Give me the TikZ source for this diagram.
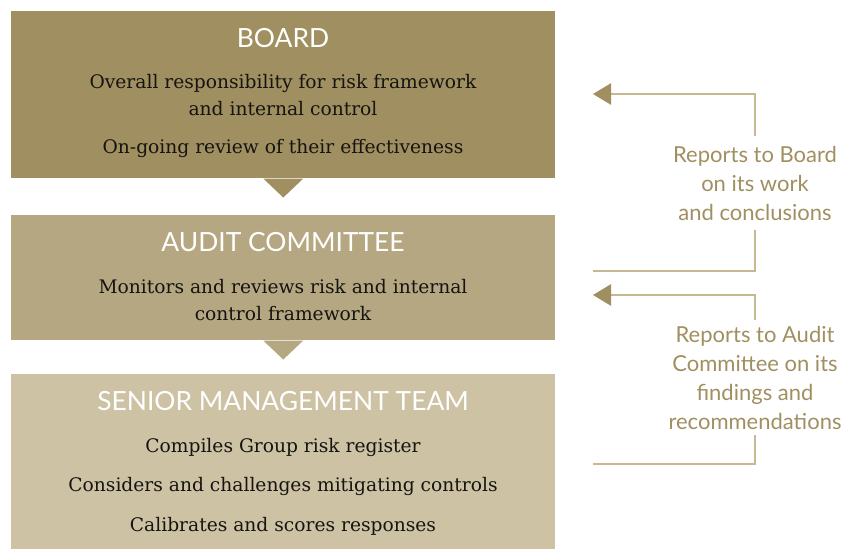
\documentclass[tikz,border=0pt]{standalone}
\usepackage{fontspec}
\setmainfont{DejaVu Serif}
\setsansfont{Lato}
\usetikzlibrary{arrows.meta, positioning}

\definecolor{boardgold}{RGB}{160,143,96}
\definecolor{auditgold}{RGB}{181,167,129}
\definecolor{seniorgold}{RGB}{205,194,164}
\definecolor{linkgold}{RGB}{198,184,146}
\definecolor{ink}{RGB}{22,20,16}

\begin{document}
\begin{tikzpicture}[
    x=0.75pt, y=-0.75pt,
    tier/.style={anchor=north west, inner sep=0pt, minimum width=408pt},
    head/.style={anchor=base, font=\sffamily\fontsize{19.8}{22}\selectfont, text=white, inner sep=0pt},
    body/.style={anchor=base, font=\rmfamily\fontsize{14}{19}\selectfont, text=ink, inner sep=0pt},
    rep/.style={align=center, font=\sffamily\fontsize{16.5}{21.75}\selectfont, text=boardgold, inner xsep=0pt},
    fb/.style={draw=linkgold, line width=1.1pt},
    tip/.style={-{Triangle[length=13.5pt, width=16pt, color=boardgold]}}
]
\useasboundingbox (0,0) rectangle (852,549);

% ===== TIERS =====
\node[tier, fill=boardgold, minimum height=125.25pt] (BOARD) at (11,11) {};
\node[tier, fill=auditgold, minimum height=93.75pt] (AUDIT) at (11,215) {};
\node[tier, fill=seniorgold, minimum height=131.25pt] (SMT) at (11,374) {};

% pointers under the upper two tiers
\fill[boardgold] ([xshift=-15pt]BOARD.south) -- ([xshift=15pt]BOARD.south)
  -- ([yshift=-14.25pt]BOARD.south) -- cycle;
\fill[auditgold] ([xshift=-15pt]AUDIT.south) -- ([xshift=15pt]AUDIT.south)
  -- ([yshift=-14.25pt]AUDIT.south) -- cycle;

% ===== TEXTS (placed on their baselines) =====
\node[head] (BT) at (283,47.3) {BOARD};
\node[body] (B1) at (283,89) {Overall responsibility for risk framework};
\node[body] (B2) at (283,115.7) {and internal control};
\node[body] (B3) at (283,153) {On-going review of their effectiveness};

\node[head] (AT) at (283,251) {AUDIT COMMITTEE};
\node[body] (A1) at (283,293.3) {Monitors and reviews risk and internal};
\node[body] (A2) at (283,320) {control framework};

\node[head] (ST) at (283,410.7) {SENIOR MANAGEMENT TEAM};
\node[body] (S1) at (283,452.7) {Compiles Group risk register};
\node[body] (S2) at (283,491.7) {Considers and challenges mitigating controls};
\node[body] (S3) at (283,531.7) {Calibrates and scores responses};

% ===== REPORTING LINES =====
\coordinate (toBOARD) at (593,94);
\coordinate (fromAUDIT) at (593,271);
\node[rep, inner ysep=7pt] (REP1) at (755,183) {Reports to Board\\on its work\\and conclusions};
\draw[fb, tip] (REP1.north) |- (toBOARD);
\draw[fb] (REP1.south) |- (fromAUDIT);

\coordinate (toAUDIT) at (593,295);
\coordinate (fromSMT) at (593,464);
\node[rep, inner ysep=4.5pt] (REP2) at (755,377.5) {Reports to Audit\\Committee on its\\findings and\\recommendations};
\draw[fb, tip] (REP2.north) |- (toAUDIT);
\draw[fb] (REP2.south) |- (fromSMT);

\end{tikzpicture}
\end{document}
